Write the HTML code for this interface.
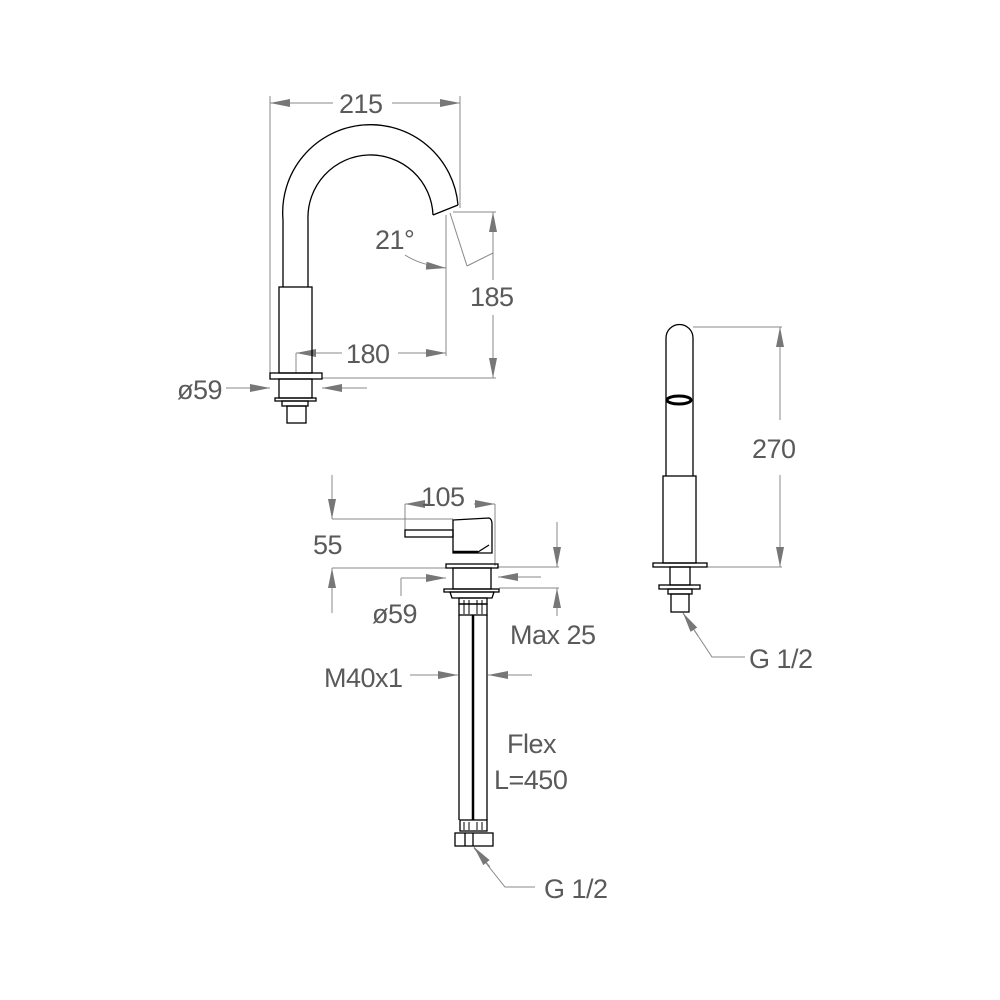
<!DOCTYPE html>
<html><head><meta charset="utf-8"><style>
html,body{margin:0;padding:0;background:#fff}
svg{display:block}
text{font-family:"Liberation Sans",Arial,sans-serif;fill:#5a5a5a;font-size:27px;letter-spacing:-0.5px}
</style></head><body>
<svg width="1000" height="1000" viewBox="0 0 1000 1000" xmlns="http://www.w3.org/2000/svg">
<defs>
<marker id="a" viewBox="0 0 20 8" refX="20" refY="4" markerWidth="20" markerHeight="8" markerUnits="userSpaceOnUse" orient="auto"><path d="M0,0 L20,4 L0,8 z" fill="#777"/></marker>
</defs>
<g stroke="#888" stroke-width="1" fill="none">
<line x1="270" y1="96" x2="270" y2="378"/>
<line x1="460" y1="96" x2="460" y2="208"/>
<line x1="333" y1="103" x2="270" y2="103" marker-end="url(#a)"/>
<line x1="392" y1="103" x2="460" y2="103" marker-end="url(#a)"/>
<line x1="446" y1="215" x2="446" y2="356"/>
<line x1="296" y1="353" x2="296" y2="373"/>
<line x1="342" y1="353" x2="296" y2="353" marker-end="url(#a)"/>
<line x1="398" y1="353" x2="446" y2="353" marker-end="url(#a)"/>
<line x1="453" y1="212" x2="496" y2="212"/>
<line x1="322" y1="378" x2="496" y2="378"/>
<line x1="493" y1="280" x2="493" y2="212" marker-end="url(#a)"/>
<line x1="493" y1="315" x2="493" y2="378" marker-end="url(#a)"/>
<line x1="450" y1="213" x2="467" y2="266"/>
<line x1="467" y1="266" x2="493" y2="253"/>
<path d="M405,255 Q420,265 446,268" marker-end="url(#a)"/>
<line x1="226" y1="388" x2="270" y2="388" marker-end="url(#a)"/>
<line x1="367" y1="388" x2="322" y2="388" marker-end="url(#a)"/>
<line x1="405" y1="504" x2="405" y2="537"/>
<line x1="495" y1="504" x2="495" y2="566"/>
<line x1="427" y1="504" x2="405" y2="504" marker-end="url(#a)"/>
<line x1="474" y1="504" x2="495" y2="504" marker-end="url(#a)"/>
<line x1="332" y1="519" x2="453" y2="519"/>
<line x1="332" y1="568" x2="446" y2="568"/>
<line x1="332" y1="475" x2="332" y2="519" marker-end="url(#a)"/>
<line x1="332" y1="613" x2="332" y2="568" marker-end="url(#a)"/>
<line x1="497" y1="567" x2="559" y2="567"/>
<line x1="499" y1="588" x2="559" y2="588"/>
<line x1="557" y1="522" x2="557" y2="567" marker-end="url(#a)"/>
<line x1="557" y1="616" x2="557" y2="588" marker-end="url(#a)"/>
<line x1="401" y1="578" x2="401" y2="596"/>
<line x1="401" y1="578" x2="446" y2="578" marker-end="url(#a)"/>
<line x1="541" y1="577" x2="498" y2="577" marker-end="url(#a)"/>
<line x1="410" y1="675" x2="458" y2="675" marker-end="url(#a)"/>
<line x1="532" y1="675" x2="488" y2="675" marker-end="url(#a)"/>
<polyline points="535,887 505,887 474,848"/>
<line x1="490" y1="867" x2="474" y2="847" marker-end="url(#a)"/>
<line x1="693" y1="327" x2="782" y2="327"/>
<line x1="707" y1="567" x2="782" y2="567"/>
<line x1="780" y1="420" x2="780" y2="327" marker-end="url(#a)"/>
<line x1="780" y1="475" x2="780" y2="567" marker-end="url(#a)"/>
<polyline points="745,657 712,657 683,613"/>
<line x1="698" y1="636" x2="683" y2="613" marker-end="url(#a)"/>
</g>

<g stroke="#000" stroke-width="1.3" fill="none">
<path d="M283,287 L283,220 A87,87 0 0 1 458,205"/>
<path d="M308,287 L308,220 A62,62 0 0 1 433,215"/>
<line x1="433" y1="215" x2="458" y2="205"/>
<rect x="279" y="287" width="33" height="86"/>
<rect x="270" y="373" width="52" height="6"/>
<rect x="279" y="379" width="33" height="19"/>
<rect x="275" y="398" width="41" height="3"/>
<rect x="282" y="401" width="26" height="5"/>
<rect x="287" y="406" width="19" height="17"/>
<!-- mixer -->
<rect x="405" y="530" width="48" height="7"/>
<path d="M453,520 L489,518 Q492,519 492,524 L492,553 L453,553 Z"/>
<line x1="453" y1="552" x2="478" y2="552" stroke-width="2.5"/>
<line x1="478" y1="552" x2="489" y2="545"/>
<rect x="446" y="564" width="52" height="4"/>
<rect x="453" y="568" width="38" height="21"/>
<rect x="444" y="589" width="55" height="3"/>
<path d="M450,592 L494,592 L492,598 L452,598 Z"/>
<rect x="459" y="598" width="28" height="6"/>
<rect x="459" y="604" width="28" height="11"/>
<line x1="459" y1="615" x2="459" y2="820"/>
<line x1="487" y1="615" x2="487" y2="820"/>
<line x1="473" y1="615" x2="473" y2="820" stroke-width="2.5"/>
<rect x="460" y="820" width="27" height="11"/>
<rect x="455" y="833" width="38" height="13"/>
<line x1="465" y1="833" x2="465" y2="846"/>
<line x1="473" y1="833" x2="473" y2="846"/>
<path d="M666,476 L666,338 A13.5,13.5 0 0 1 693,338 L693,476"/>
<ellipse cx="679" cy="400" rx="12" ry="4" stroke-width="3"/>
<rect x="663" y="476" width="33" height="87"/>
<rect x="653" y="563" width="54" height="4"/>
<rect x="670" y="567" width="20" height="18"/>
<rect x="659" y="585" width="41" height="4"/>
<rect x="668" y="589" width="24" height="5"/>
<rect x="671" y="594" width="18" height="18"/>
</g>
<g stroke="#000" stroke-width="1">
<line x1="464" y1="600" x2="464" y2="614"/><line x1="469" y1="600" x2="469" y2="614"/>
<line x1="477" y1="600" x2="477" y2="614"/><line x1="482" y1="600" x2="482" y2="614"/>
<line x1="464" y1="822" x2="464" y2="830"/><line x1="469" y1="822" x2="469" y2="830"/>
<line x1="477" y1="822" x2="477" y2="830"/><line x1="482" y1="822" x2="482" y2="830"/>
</g>

<text x="339" y="113">215</text>
<text x="375" y="249">21°</text>
<text x="470" y="306">185</text>
<text x="346" y="363">180</text>
<text x="177" y="399">ø59</text>
<text x="421" y="506">105</text>
<text x="313" y="554">55</text>
<text x="372" y="623">ø59</text>
<text x="510" y="644">Max 25</text>
<text x="324" y="687">M40x1</text>
<text x="507" y="753">Flex</text>
<text x="494" y="789">L=450</text>
<text x="544" y="898">G 1/2</text>
<text x="752" y="458">270</text>
<text x="749" y="668">G 1/2</text>
</svg>
</body></html>
